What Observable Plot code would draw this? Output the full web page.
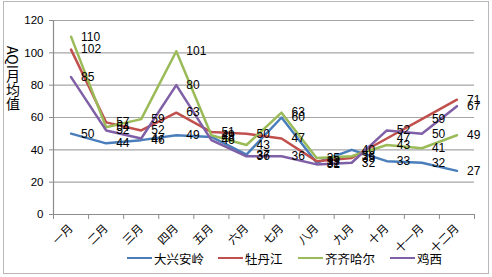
<!DOCTYPE html>
<html><head><meta charset="utf-8">
<script src="https://cdn.jsdelivr.net/npm/d3@7"></script>
<script src="https://cdn.jsdelivr.net/npm/@observablehq/plot@0.6"></script>
<style>
body{margin:0;background:#fff;}
#wrap{position:relative;width:492px;height:277px;overflow:hidden;font-family:"Liberation Sans",Arial,sans-serif;}
#border{position:absolute;left:3px;top:1px;width:484px;height:271px;border:1.5px solid #b8b8b8;box-sizing:content-box;}
#ytitle{position:absolute;left:5px;top:46px;writing-mode:vertical-rl;font-size:14px;font-family:"Noto Sans CJK SC",sans-serif;color:#000;line-height:16px;}
#legend{position:absolute;top:249px;left:0;width:492px;height:18px;font-family:"Noto Sans CJK SC",serif;font-size:12.5px;color:#000;}
.li{position:absolute;display:flex;align-items:center;height:18px;}
.sw{width:25px;height:2.5px;margin-right:2px;}
</style></head>
<body>
<div id="wrap"><div id="border"></div><div id="ytitle">AQI月均值</div><div id="legend"></div></div>
<script>
const months = ["一月","二月","三月","四月","五月","六月","七月","八月","九月","十月","十一月","十二月"];
const seriesNames = ["大兴安岭","牡丹江","齐齐哈尔","鸡西"];
const daxing = [50,44,46,49,48,37,60,32,40,33,32,27];
const mudan  = [102,57,52,63,51,50,47,33,35,47,59,71];
const qiqi   = [110,54,59,101,49,43,63,35,36,43,41,49];
const jixi   = [85,52,47,80,46,36,36,31,32,52,50,67];
const colors = ["#4a7ebb","#c0504d","#9bbb59","#7f5fa6"];
const yTicks = [0,20,40,60,80,100,120];

const all = [daxing, mudan, qiqi, jixi];
const data = [];
all.forEach((arr, s) => arr.forEach((v, i) => data.push({series: seriesNames[s], i, v})));
const boundaries = d3.range(-0.5, 12, 1);

const chart = Plot.plot({
  width: 492, height: 277,
  marginLeft: 53, marginRight: 18, marginTop: 20, marginBottom: 63,
  style: {fontFamily: "'Liberation Sans', Arial, sans-serif", fontSize: "12px", background: "transparent", overflow: "visible"},
  x: {domain: [-0.5, 11.5]},
  y: {domain: [0, 120]},
  color: {domain: seriesNames, range: colors},
  marks: [
    Plot.gridY(yTicks.filter(d => d > 0), {stroke: "#a6a6a6", strokeOpacity: 1, strokeWidth: 1.2}),
    Plot.ruleX([-0.5], {stroke: "#8c8c8c", strokeWidth: 1.2}),
    Plot.ruleY([0], {stroke: "#8c8c8c", strokeWidth: 1.2}),
    Plot.axisY({ticks: yTicks, tickSize: 4, tickPadding: 6, stroke: "#8c8c8c", label: null, fontSize: 11.5}),
    Plot.axisX({ticks: boundaries, tickSize: 5, tickFormat: () => "", stroke: "#8c8c8c", label: null}),
    Plot.axisX({ticks: d3.range(12), tickSize: 0, tickPadding: 12, tickRotate: -45, tickFormat: i => months[i], label: null,
      fontSize: 11.5, fontFamily: "'Noto Sans CJK SC', sans-serif"}),
    Plot.line(data, {x: "i", y: "v", z: "series", stroke: "series", strokeWidth: 2.5, curve: "linear"}),
    Plot.text(data, {x: "i", y: "v", text: d => String(d.v), dx: 10, textAnchor: "start", fill: "#000", fontSize: 12})
  ]
});
document.getElementById("wrap").prepend(chart);

const lg = document.getElementById("legend");
const lx = [127, 218, 298, 390];
seriesNames.forEach((n, k) => {
  const d = document.createElement("div");
  d.className = "li";
  d.style.left = lx[k] + "px";
  d.innerHTML = `<div class="sw" style="background:${colors[k]}"></div><span>${n}</span>`;
  lg.appendChild(d);
});
</script>
</body></html>
